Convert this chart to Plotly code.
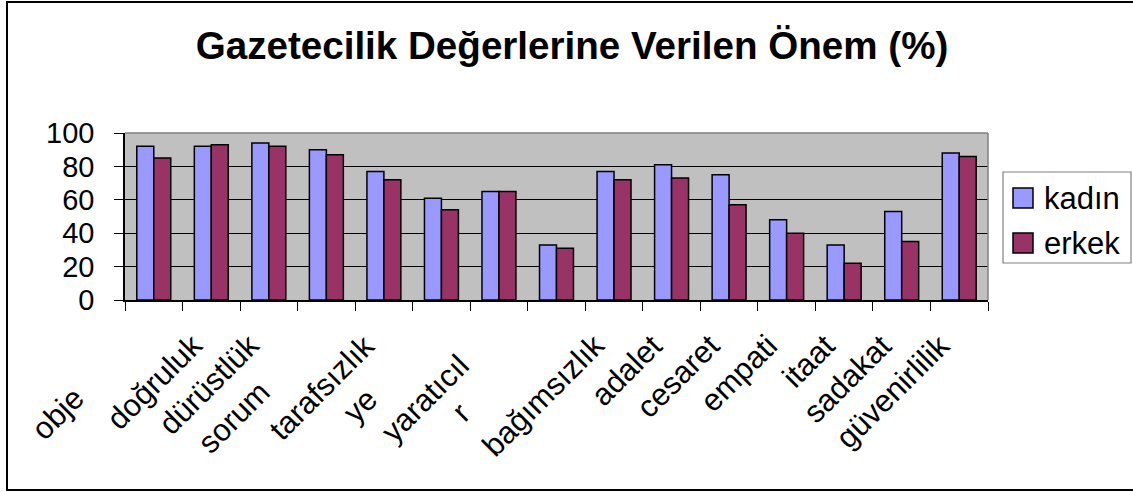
import plotly.graph_objects as go

categories = ["obje", "doğruluk", "dürüstlük", "sorum", "tarafsızlık", "ye",
              "yaratıcıl", "r", "bağımsızlık", "adalet", "cesaret", "empati",
              "itaat", "sadakat", "güvenirlilik"]
kadin = [92, 92, 94, 90, 77, 61, 65, 33, 77, 81, 75, 48, 33, 53, 88]
erkek = [85, 93, 92, 87, 72, 54, 65, 31, 72, 73, 57, 40, 22, 35, 86]
series_names = ["kadın", "erkek"]
series_colors = ["#9999FF", "#993366"]
y_ticks = [0, 20, 40, 60, 80, 100]

W, H = 1133, 492
L, R, T, B = 125, 988, 133, 300  # plot area in pixels

FONT = "Liberation Sans, Arial, sans-serif"

fig = go.Figure()
for name, vals, col in zip(series_names, [kadin, erkek], series_colors):
    fig.add_trace(go.Bar(x=categories, y=vals, name=name, showlegend=False,
                         marker=dict(color=col, line=dict(color="#000000", width=1.5))))

def px(x):
    return (x - L) / (R - L)

def py(y):
    return (B - y) / (B - T)

# per-label shifts (truncated labels slide down-left along the 45° line)
label_dx = [-60, 0, 0, -47, 0, -54, -20, -77, 0, 0, 0, 0, 0, 0, 0]
label_dy = [-52, 0, 0, -47, 0, -54, -20, -69, 0, 0, 0, 0, 0, 0, 0]
annotations = []
for cat, dx, dy in zip(categories, label_dx, label_dy):
    annotations.append(dict(
        x=cat, xref="x", y=py(325), yref="paper",
        text=cat, showarrow=False, textangle=-45,
        xanchor="right", yanchor="top",
        xshift=dx, yshift=dy,
        font=dict(family=FONT, size=31, color="#000000"),
    ))

shapes = [
    # outer chart frame
    dict(type="rect", xref="paper", yref="paper",
         x0=px(7), x1=px(1145), y0=py(490), y1=py(2),
         line=dict(color="#000000", width=2), fillcolor="rgba(0,0,0,0)", layer="below"),
    # gray plot border top/right
    dict(type="line", xref="paper", yref="paper", x0=0, x1=1, y0=1, y1=1,
         line=dict(color="#808080", width=1.5)),
    dict(type="line", xref="paper", yref="paper", x0=1, x1=1, y0=0, y1=1,
         line=dict(color="#808080", width=1.5)),
    # legend box
    dict(type="rect", xref="paper", yref="paper",
         x0=px(1003), x1=px(1131), y0=py(263), y1=py(172),
         line=dict(color="#808080", width=1.2), fillcolor="#FFFFFF"),
]

# custom legend entries
leg_rows = [198, 243]
for name, col, yc in zip(series_names, series_colors, leg_rows):
    shapes.append(dict(type="rect", xref="paper", yref="paper",
                       x0=px(1013), x1=px(1033), y0=py(yc + 10), y1=py(yc - 10),
                       line=dict(color="#000000", width=1.5), fillcolor=col))
    annotations.append(dict(x=px(1042), xref="paper", y=py(yc), yref="paper",
                            text=name, showarrow=False, xanchor="left", yanchor="middle",
                            font=dict(family=FONT, size=31, color="#000000")))

fig.update_layout(
    width=W, height=H,
    margin=dict(l=L, r=W - R, t=T, b=H - B, pad=0, autoexpand=False),
    paper_bgcolor="#FFFFFF", plot_bgcolor="#C0C0C0",
    font=dict(family=FONT, color="#000000"),
    title=dict(text="<b>Gazetecilik Değerlerine Verilen Önem (%)</b>",
               x=572 / W, xanchor="center", y=1 - 45 / H, yanchor="middle",
               font=dict(family=FONT, size=38.6, color="#000000")),
    barmode="group", bargap=0.41, bargroupgap=0,
    showlegend=False,
    annotations=annotations,
    shapes=shapes,
)
fig.update_xaxes(range=[-0.5, len(categories) - 0.5], autorange=False,
                 showticklabels=False, ticks="outside", tickson="boundaries",
                 ticklen=9, tickcolor="#000000", tickwidth=1,
                 showline=True, linecolor="#000000", linewidth=1.5,
                 showgrid=False, zeroline=False, fixedrange=True)
fig.update_yaxes(range=[0, 100], autorange=False, tickvals=y_ticks, ticks="outside", ticklen=9,
                 tickcolor="#000000", tickwidth=1,
                 showline=True, linecolor="#000000", linewidth=1.5,
                 showgrid=True, gridcolor="#000000", gridwidth=1,
                 zeroline=False, ticklabelstandoff=14,
                 tickfont=dict(family=FONT, size=29, color="#000000"),
                 fixedrange=True)

fig.write_html("out.html", config={"displayModeBar": False},
               post_script="document.body.style.margin='0px';document.body.style.overflow='hidden';")
